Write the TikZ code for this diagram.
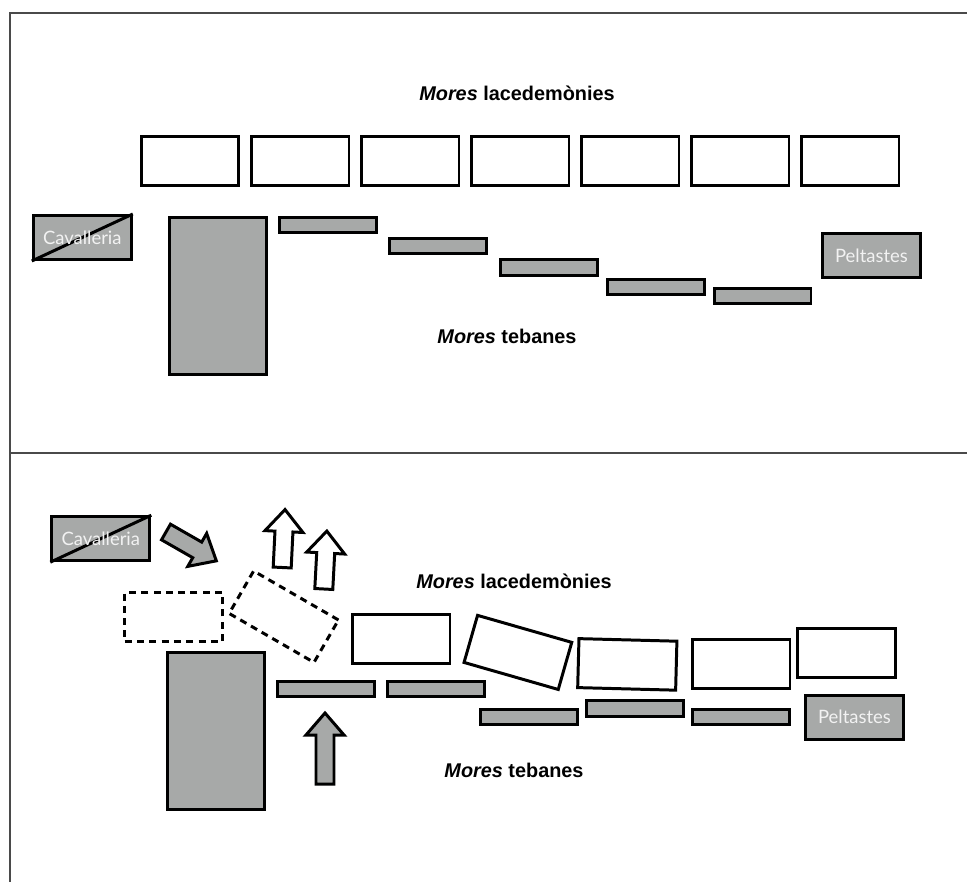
\documentclass[tikz,border=0pt]{standalone}
\usepackage{fontspec}
\setmainfont{Liberation Sans}
\newfontfamily\unitfont{Lato}
\definecolor{unit_gray}{HTML}{A7A9A8}
\definecolor{frame_gray}{HTML}{4A4A4A}
\definecolor{unit_white}{HTML}{F2F2F2}

\begin{document}
\begin{tikzpicture}[
    x=0.02cm, y=-0.02cm,
    hoplites/.style={draw=black, fill=white, line width=1.7pt, inner sep=0pt,
        minimum width=1.96cm, minimum height=0.98cm},
    ghost/.style={hoplites, fill=none, dash pattern=on 4pt off 3pt},
    thinrank/.style={draw=black, fill=unit_gray, line width=1.7pt, inner sep=0pt,
        minimum width=1.94cm, minimum height=0.31cm},
    column/.style={thinrank, minimum height=3.14cm},
    troops/.style={thinrank, minimum width=1.96cm, minimum height=0.88cm},
    unitname/.style={text=unit_white, font=\unitfont\fontsize{10.5}{12}\selectfont, inner sep=0pt},
    sidename/.style={font=\bfseries\fontsize{11.3}{13}\selectfont, inner sep=0pt},
    pics/blockarrow/.style={code={
        \draw[pic actions, line width=1.7pt]
            (0,-9) -- (#1-22,-9) -- (#1-22,-19) -- (#1,0)
            -- (#1-22,19) -- (#1-22,9) -- (0,9) -- cycle;
    }}
]
\useasboundingbox (0,0) rectangle (967,882);

% ---- Frame of the two panels ----
\draw[frame_gray, line width=1.2pt] (10,882) -- (10,12.7) -- (967,12.7);
\draw[frame_gray, line width=1.2pt] (10,453) -- (967,453);

% ---------------------------------------------------------------
%  Panel 1: the two lines before the clash
% ---------------------------------------------------------------
\node[sidename] (spartaA) at (517,93) {\textit{Mores} lacedemònies};
\foreach \i in {0,...,6}
    \node[hoplites] (spA\i) at ({190+110*\i},161) {};

\node[column] (thA) at (218,296) {};
\foreach \x/\y [count=\i] in {327.8/224.8, 438.2/246.2, 548.8/267.5,
                              655.8/287, 762.5/295.8}
    \node[thinrank] (thA\i) at (\x,\y) {};

\node[troops] (cavA) at (82.3,237.5) {};
\draw[line width=1.7pt] (cavA.south west) -- (cavA.north east);
\node[unitname] (cavAtext) at (cavA) {Cavalleria};

\node[troops] (pelA) at (871.5,255.5) {};
\node[unitname] (pelAtext) at (pelA) {Peltastes};

\node[sidename] (thebesA) at (507,336) {\textit{Mores} tebanes};

% ---------------------------------------------------------------
%  Panel 2: the Spartan right wing breaks
% ---------------------------------------------------------------
\node[troops] (cavB) at (100.8,538.7) {};
\draw[line width=1.7pt] (cavB.south west) -- (cavB.north east);
\node[unitname] (cavBtext) at (cavB) {Cavalleria};

\pic[fill=unit_gray, rotate=-29.8] at (166,532) {blockarrow=58};
\pic[fill=white, rotate=87.2] at (282.2,567.5) {blockarrow=58};
\pic[fill=white, rotate=87] at (323.8,589) {blockarrow=58};

\node[ghost] (spB0) at (173.7,617) {};
\node[ghost, rotate=-30] (spB1) at (283.8,616.7) {};
\node[hoplites] (spB2) at (401,638.7) {};
\node[hoplites, rotate=-16] (spB3) at (517.9,652.4) {};
\node[hoplites, rotate=-1.5] (spB4) at (627.3,664.4) {};
\node[hoplites] (spB5) at (741,664.2) {};
\node[hoplites] (spB6) at (846.4,653.2) {};

\node[sidename] (spartaB) at (514,581) {\textit{Mores} lacedemònies};

\node[column] (thB) at (216,731.2) {};
\foreach \x/\y [count=\i] in {325.7/688.8, 435.7/688.8, 529.2/717.2,
                              635.4/708.3, 741/717}
    \node[thinrank] (thB\i) at (\x,\y) {};

\node[troops] (pelB) at (854.5,717.2) {};
\node[unitname] (pelBtext) at (pelB) {Peltastes};

\pic[fill=unit_gray, rotate=90] at (325,784) {blockarrow=71};

\node[sidename] (thebesB) at (514,770) {\textit{Mores} tebanes};

\end{tikzpicture}
\end{document}
